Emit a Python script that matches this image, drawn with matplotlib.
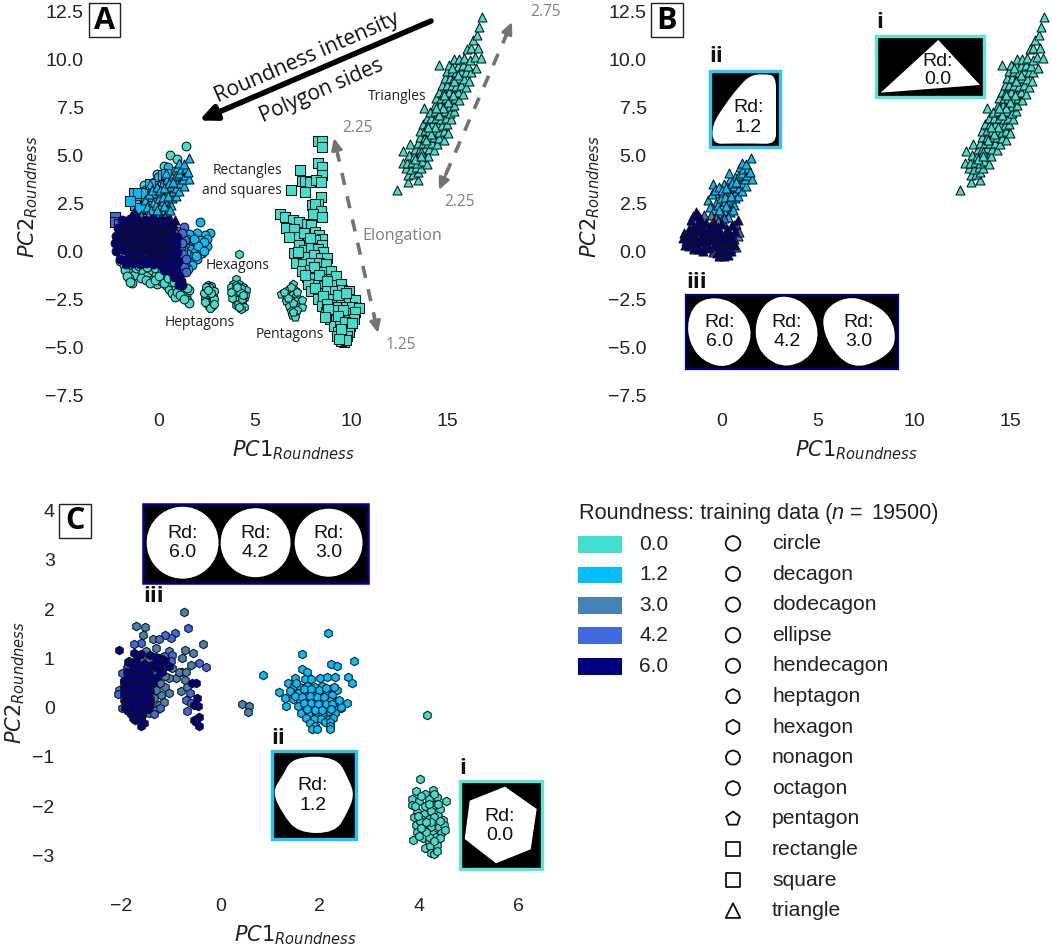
#!/usr/bin/env python3
"""Roundness PCA scatter panels (A, B, C) with shape insets and legend."""

import numpy as np
import matplotlib
matplotlib.use("Agg")
import matplotlib.pyplot as plt
from matplotlib.patches import PathPatch, Polygon, Rectangle
from matplotlib.path import Path

W, H = 1052, 946
plt.rcParams["font.family"] = ["Liberation Sans", "DejaVu Sans"]
plt.rcParams["mathtext.fontset"] = "dejavusans"

ROUND_LEVELS = ["0.0", "1.2", "3.0", "4.2", "6.0"]
ROUND_COLORS = ["#40E0D0", "#00BFFF", "#4682B4", "#4169E1", "#000080"]
SHAPE_NAMES = ["circle", "decagon", "dodecagon", "ellipse", "hendecagon", "heptagon", "hexagon",
               "nonagon", "octagon", "pentagon", "rectangle", "square", "triangle"]
SHAPE_MARKERS = ["o", (10, 0, 0), (12, 0, 0), "o", (11, 0, 0), (7, 0, 0), "h",
                 (9, 0, 0), (8, 0, 0), "p", "s", "s", "^"]

# --- triangles, shared by panels A and B ---
tri_00 = [(12.37, 3.2), (12.94, 3.6), (13.44, 3.7), (12.95, 3.95), (13.2, 4.0), (13.45, 4.1), (12.85, 4.3), (13.1, 4.25),
          (13.35, 4.35), (13.6, 4.3), (12.66, 4.58), (12.9, 4.6), (13.15, 4.65), (13.4, 4.6), (13.65, 4.7), (13.9, 4.55),
          (13.0, 5.0), (13.25, 4.95), (13.5, 5.0), (13.75, 5.05), (14.0, 4.95), (12.7, 5.2), (13.3, 5.3), (13.55, 5.3),
          (13.8, 5.35), (14.05, 5.3), (14.3, 5.25), (13.04, 5.57), (13.45, 5.65), (13.7, 5.6), (13.95, 5.65), (14.2, 5.6),
          (14.45, 5.55), (13.55, 5.95), (13.8, 5.95), (14.05, 5.95), (14.3, 5.95), (14.55, 5.9), (14.8, 5.8), (13.55, 6.25),
          (13.8, 6.3), (14.05, 6.25), (14.3, 6.3), (14.55, 6.2), (14.8, 6.25), (15.0, 6.15), (13.7, 6.6), (13.95, 6.6),
          (14.2, 6.6), (14.45, 6.6), (14.7, 6.55), (14.95, 6.6), (13.9, 6.95), (14.15, 6.95), (14.4, 6.95), (14.65, 6.9),
          (14.9, 6.95), (15.15, 6.85), (14.1, 7.25), (14.35, 7.3), (14.6, 7.25), (14.85, 7.3), (15.1, 7.2), (15.3, 7.3),
          (13.78, 7.46), (14.35, 7.6), (14.6, 7.6), (14.85, 7.6), (15.1, 7.55), (15.35, 7.6), (14.4, 7.95), (14.65, 7.95),
          (14.9, 7.95), (15.15, 7.9), (15.4, 7.95), (15.6, 7.85), (14.55, 8.3), (14.8, 8.3), (15.05, 8.3), (15.3, 8.25),
          (15.55, 8.3), (15.8, 8.2), (14.7, 8.65), (14.95, 8.65), (15.2, 8.65), (15.45, 8.6), (15.7, 8.65), (15.95, 8.55),
          (14.85, 9.0), (15.1, 9.0), (15.35, 9.0), (15.6, 9.0), (15.85, 8.95), (16.1, 8.85), (14.95, 9.35), (15.2, 9.35),
          (15.45, 9.3), (15.7, 9.35), (15.95, 9.3), (16.2, 9.3), (14.55, 9.7), (15.05, 9.7), (15.3, 9.7), (15.55, 9.65),
          (15.8, 9.7), (16.05, 9.65), (16.45, 9.55), (15.35, 10.0), (15.6, 10.0), (15.85, 10.05), (16.15, 9.95), (16.4, 10.1),
          (16.7, 10.05), (16.0, 10.5), (16.2, 10.55), (16.55, 10.55), (16.3, 11.0), (16.5, 11.25), (16.6, 11.65), (16.76, 12.2),
          (13.3, 4.8), (13.6, 5.15), (13.85, 5.8), (14.15, 6.1), (14.35, 6.45), (14.55, 7.1), (14.75, 7.45), (15.0, 7.75),
          (15.25, 8.1), (15.3, 8.85), (15.55, 9.15), (15.2, 9.55), (13.6, 4.95), (14.0, 6.45), (14.4, 7.45), (14.8, 8.1)]
tri_12 = [(-0.43, 3.5), (-0.2, 3.0), (-0.7, 2.65), (-0.3, 2.5), (-0.6, 2.3), (-0.4, 2.15), (-0.15, 2.4), (0.0, 2.75),
          (0.05, 2.3), (0.2, 2.6), (0.35, 2.3), (0.45, 2.65), (0.65, 2.4), (0.7, 2.75), (0.1, 3.05), (0.3, 3.0), (0.5, 3.05),
          (0.75, 3.1), (0.88, 2.85), (0.4, 3.35), (0.65, 3.4), (0.9, 3.3), (1.05, 3.1), (0.15, 3.5), (0.9, 3.65), (1.1, 3.55),
          (1.3, 3.4), (1.25, 3.75), (0.45, 3.75), (0.7, 3.85), (0.4, 4.05), (0.9, 3.95), (1.05, 4.05), (1.35, 3.95),
          (0.95, 4.4), (1.15, 4.25), (1.4, 4.3), (1.05, 4.6), (1.3, 4.55), (1.55, 4.82), (-0.1, 1.95), (0.2, 2.0), (0.45, 2.05),
          (0.1, 1.75), (-0.25, 1.8), (0.35, 1.75), (1.57, 3.75), (1.5, 4.1), (-0.5, 2.95), (-0.35, 3.2), (-0.1, 3.35),
          (0.05, 3.2), (0.25, 3.3), (0.55, 3.55), (0.2, 2.8), (0.5, 2.85), (0.25, 2.35), (-0.1, 2.15), (0.6, 2.15), (0.75, 3.6)]
tri_30 = [(-0.55, 1.9), (-0.3, 1.7), (-0.45, 1.5), (-0.15, 1.55), (0.1, 1.5), (0.75, 1.4), (0.85, 0.8)]
tri_42 = [(-1.5, 1.3), (-1.85, 0.5), (-0.9, 1.9), (-1.1, 1.7), (-1.4, 0.1), (-0.45, -0.05), (-0.4, 0.05), (0.15, 1.7),
          (0.9, 1.0), (0.65, 1.35), (0.5, 0.15), (-0.75, 0.3), (0.65, 0.6), (-1.9, 0.75), (-1.7, 0.25), (0.75, 0.2)]
tri_60 = [(-1.3, 2.02), (-1.1, 1.65), (-1.55, 1.6), (-1.2, 1.4), (-1.45, 1.2), (-1.7, 1.15), (-1.95, 0.95), (-1.75, 0.85),
          (-1.5, 0.9), (-1.25, 1.05), (-1.0, 1.25), (-0.8, 1.45), (-0.6, 1.3), (-0.4, 1.45), (-0.15, 1.25), (0.05, 1.4),
          (0.3, 1.15), (0.55, 1.35), (0.85, 1.6), (0.7, 1.05), (0.45, 0.9), (0.2, 0.85), (-0.05, 0.95), (-0.3, 0.95),
          (-0.55, 0.9), (-0.8, 0.85), (-1.05, 0.75), (-1.3, 0.7), (-1.55, 0.6), (-1.8, 0.55), (-1.6, 0.35), (-1.35, 0.4),
          (-1.1, 0.45), (-0.85, 0.5), (-0.6, 0.55), (-0.35, 0.6), (-0.1, 0.6), (0.15, 0.5), (0.4, 0.55), (0.65, 0.3), (0.35, 0.2),
          (0.1, 0.2), (-0.15, 0.25), (-0.4, 0.3), (-0.65, 0.15), (-0.9, 0.2), (-1.15, 0.1), (-0.2, -0.1), (0.05, -0.1), (0.3, -0.05),
          (0.5, 0.0), (-0.1, -0.25), (0.15, -0.25), (0.35, -0.2), (-1.2, 1.85), (-1.45, 1.8), (-0.95, 1.05), (-0.7, 1.1),
          (-0.45, 1.15), (-0.2, 0.75), (0.05, 0.7), (0.3, 0.7), (0.55, 0.7), (-2.0, 0.7), (-1.9, 0.3), (-1.4, 0.15), (-0.95, 0.0)]

# --- panel A only: other shapes ---
circ_a_00 = [(1.4, 5.45), (0.6, 5.0), (0.95, 4.8), (0.3, 4.45), (-0.1, 4.0), (-0.75, 3.45), (1.1, 4.0), (0.85, 4.15), (-2.0, -0.5),
             (-1.8, -0.75), (-1.65, -0.95), (-1.5, -0.85), (-1.45, -1.15), (-1.3, -1.25), (-1.55, -1.4), (-1.4, -1.65), (-1.2, -0.9),
             (-1.0, -0.8), (-0.8, -1.1), (-0.6, -1.3), (-0.9, -1.4), (-0.35, -1.0), (-0.35, -1.5), (-0.15, -1.25), (-0.1, -1.7),
             (0.1, -1.55), (0.3, -1.3), (0.4, -1.75), (0.55, -2.0), (0.65, -1.6), (0.7, -2.2), (0.85, -2.4), (0.9, -1.9), (1.05, -1.5),
             (1.15, -1.95), (1.25, -2.15), (1.4, -2.3), (1.45, -2.55), (1.55, -2.7), (1.55, -2.05), (-0.6, -0.85), (-0.2, -0.9),
             (0.15, -1.0), (0.6, -1.15), (-0.65, -1.5), (-0.45, -1.65), (-0.2, -1.5), (0.0, -1.3), (0.25, -1.65), (0.5, -1.4),
             (0.8, -1.6), (0.95, -2.15), (1.1, -2.3), (1.3, -2.5), (-1.75, -1.0), (-1.65, -1.3), (-1.5, -1.6), (1.45, -1.95)]
circ_a_12 = [(2.15, 1.5), (2.65, 0.95), (2.4, 0.85), (2.0, 0.95), (1.75, 0.75), (2.15, 0.55), (2.5, 0.65), (1.85, 0.3), (2.2, 0.2), (2.5, 0.25),
             (1.6, 0.1), (1.9, -0.05), (2.25, -0.1), (2.0, -0.4), (1.7, -0.25), (1.55, -0.55), (1.35, 0.35), (1.65, 0.55), (1.4, -0.1),
             (1.55, 0.9), (1.2, 0.75), (-0.05, 3.15), (-0.85, 2.3), (-0.45, 3.1), (1.75, -0.75), (1.5, -0.95), (1.35, -0.75), (1.25, -0.3),
             (2.35, 0.45), (2.05, 0.25), (1.45, 0.6), (1.85, 0.6), (1.25, 0.1), (2.35, 0.0), (1.95, -0.25), (-1.35, 2.7), (-1.05, 2.5),
             (-0.7, 3.2), (-0.25, 3.6), (-0.05, 3.85), (0.2, 3.75), (0.5, 4.35), (0.25, 3.4)]
circ_a_dark = [(-1.9, 1.6), (-1.5, 1.65), (-1.1, 1.55), (-0.7, 1.6), (-0.3, 1.65), (0.1, 1.55), (0.5, 1.6), (-2.1, 1.2), (-1.7, 1.25), (-1.3, 1.15),
               (-0.9, 1.2), (-0.5, 1.25), (-0.1, 1.15), (0.3, 1.2), (0.7, 1.25), (-2.2, 0.8), (-1.8, 0.85), (-1.4, 0.75), (-1.0, 0.8), (-0.6, 0.85),
               (-0.2, 0.75), (0.2, 0.8), (0.6, 0.85), (0.95, 0.75), (-2.25, 0.4), (-1.9, 0.45), (-1.5, 0.35), (-1.1, 0.4), (-0.7, 0.45), (-0.3, 0.35),
               (0.1, 0.4), (0.5, 0.45), (0.9, 0.35), (-2.2, 0.0), (-1.8, 0.05), (-1.4, -0.05), (-1.0, 0.0), (-0.6, 0.05), (-0.2, -0.05), (0.2, 0.0),
               (0.6, 0.05), (0.95, -0.05), (-2.0, -0.4), (-1.6, -0.35), (-1.2, -0.45), (-0.8, -0.4), (-0.4, -0.35), (0.0, -0.45), (0.4, -0.4),
               (0.8, -0.35), (1.0, -0.5), (-1.7, -0.7), (-1.35, -0.65), (-0.3, -0.7), (0.1, -0.75), (0.5, -0.7), (0.9, -0.75), (0.25, -1.0), (0.6, -1.05),
               (0.9, -1.05), (0.8, -1.35), (1.05, -1.3), (1.1, -1.65), (1.22, -1.75), (-0.95, -0.7), (-0.65, -0.6), (1.15, -1.55), (1.05, -1.75)]
circ_a_mid = [(1.3, 1.25), (0.95, 0.45), (1.15, 0.15), (1.05, -0.35), (1.25, -0.55), (1.0, -0.95), (1.3, -0.85), (1.1, 0.7), (1.25, -0.15),
              (1.35, 0.55), (1.2, 0.4), (1.4, -0.4), (1.15, -1.15), (1.4, -1.1), (0.95, 1.05), (1.2, 0.95)]
sq_a_blue = [(-0.95, 2.6), (-0.65, 2.65), (-1.3, 3.0), (-1.05, 3.0), (-0.65, 3.0), (-0.3, 2.75), (0.2, 3.95), (0.4, 4.0), (-0.35, 3.05),
             (-0.8, 2.2), (-0.5, 2.35), (-1.25, 2.4), (-1.5, 2.6), (-0.45, 3.5), (-0.1, 3.0), (-0.95, 2.25)]
sq_a_dark = [(-2.25, 1.75), (-2.25, 1.5), (-1.9, 1.3), (-1.6, 1.5), (-1.35, 1.1), (-1.75, 0.95), (-1.2, 1.35), (-2.05, 1.4)]
hept_a = [(2.55, -1.75), (2.7, -1.8), (2.45, -2.0), (2.75, -2.05), (2.6, -1.9), (2.5, -2.25), (2.8, -2.3), (2.65, -2.35), (2.6, -2.5), (2.4, -2.45),
          (2.75, -2.6), (2.5, -2.65), (2.55, -2.8), (2.75, -2.85), (2.6, -2.15), (2.65, -2.95), (2.85, -2.5), (2.35, -2.2), (2.85, -2.1), (2.45, -1.85),
          (2.85, -2.75), (2.7, -2.2), (2.4, -2.65), (2.55, -2.05)]
hex_a = [(4.15, -0.15), (4.0, -1.45), (3.85, -1.7), (4.15, -1.7), (4.4, -1.85), (3.85, -2.0), (4.1, -2.05), (4.4, -2.15), (3.9, -2.3), (4.2, -2.35),
         (4.45, -2.45), (4.05, -2.55), (4.3, -2.7), (4.45, -2.9), (4.25, -3.0), (4.0, -2.8), (3.75, -1.85), (4.0, -1.75), (4.55, -2.05), (4.25, -1.95),
         (3.95, -2.15), (4.1, -2.75), (4.2, -2.15), (4.3, -2.5), (3.8, -2.45), (4.5, -2.3), (4.15, -2.9), (3.75, -2.15), (4.35, -2.3), (4.05, -1.9)]
pent_a = [(6.95, -1.7), (6.75, -2.0), (7.05, -2.05), (6.35, -2.25), (6.6, -2.3), (6.9, -2.3), (7.15, -2.35), (6.6, -2.6), (6.85, -2.55), (7.15, -2.6),
          (7.35, -2.7), (6.75, -2.85), (7.0, -2.85), (7.3, -2.9), (6.85, -3.1), (7.1, -3.15), (6.9, -3.35), (7.05, -3.45), (6.85, -1.9), (7.2, -2.15),
          (6.5, -2.15), (7.45, -2.9), (7.45, -2.55), (6.95, -2.7), (7.2, -3.05), (6.7, -2.45), (6.95, -3.2)]
sq_a = [(8.25, 5.75), (8.45, 5.75), (8.45, 5.4), (8.25, 4.6), (7.35, 4.2), (8.5, 4.35), (8.5, 3.95), (7.45, 3.65), (7.6, 3.65), (7.85, 3.6), (8.15, 3.7),
        (8.4, 3.6), (6.85, 3.2), (7.6, 3.05), (8.4, 2.8), (8.25, 2.45), (7.95, 2.4), (8.1, 2.45), (8.4, 2.1), (6.3, 1.95), (6.55, 1.75), (8.0, 1.95), (8.5, 1.75),
        (6.95, 1.6), (7.3, 1.5), (7.7, 1.4), (7.9, 1.35), (6.6, 1.2), (7.0, 1.15), (7.2, 0.75), (6.75, 0.75), (7.55, 0.95), (8.1, 1.0), (8.3, 0.85), (8.45, 0.65),
        (7.75, 0.4), (8.1, 0.55), (8.45, 0.3), (7.3, 0.3), (7.55, 0.05), (7.9, 0.15), (8.25, 0.1), (8.55, -0.05), (7.0, -0.1), (7.35, -0.35), (7.65, -0.3), (8.05, -0.2),
        (8.4, -0.35), (8.75, -0.35), (7.15, -0.65), (7.5, -0.7), (7.9, -0.6), (8.3, -0.65), (8.7, -0.7), (7.45, -1.05), (7.85, -1.0), (8.15, -1.05), (8.55, -1.1),
        (8.95, -1.05), (7.7, -1.35), (8.05, -1.4), (8.5, -1.45), (8.95, -1.45), (9.2, -1.3), (7.75, -1.7), (8.25, -1.75), (8.6, -1.8), (9.0, -1.75), (9.45, -1.7),
        (7.9, -2.1), (8.35, -2.2), (8.75, -2.1), (9.15, -2.1), (9.5, -2.05), (9.9, -2.1), (8.25, -2.5), (8.65, -2.55), (9.05, -2.5), (9.45, -2.45), (9.85, -2.5),
        (10.2, -2.55), (8.5, -2.85), (8.9, -2.9), (9.3, -2.9), (9.7, -2.9), (10.05, -2.9), (10.4, -2.95), (8.7, -3.2), (9.1, -3.25), (9.5, -3.25), (9.9, -3.25),
        (10.2, -3.2), (8.9, -3.55), (9.2, -3.6), (9.5, -3.55), (9.85, -3.6), (10.15, -3.55), (9.1, -3.9), (9.4, -3.85), (9.7, -3.95), (9.95, -3.9), (9.3, -4.2),
        (9.6, -4.25), (9.9, -4.2), (9.25, -4.45), (9.55, -4.55), (9.75, -4.45), (9.6, -4.75), (9.45, -4.7), (9.7, -4.65), (7.25, -0.05), (7.85, 0.7), (8.05, -0.85),
        (7.6, -1.25), (8.3, -1.25), (8.75, -1.55), (8.1, -1.95), (8.55, -2.35), (9.3, -2.3), (9.7, -2.2), (8.75, -2.75), (9.15, -3.05), (9.55, -3.05), (9.3, -3.4),
        (9.65, -3.7), (9.45, -4.05), (10.05, -3.75), (9.35, -4.6), (8.8, -3.0), (8.65, -3.45)]

# --- panel C: hexagons ---
hex_00 = [(4.17, -0.15), (4.03, -1.45), (3.95, -1.7), (4.12, -1.75), (4.28, -1.68), (4.2, -1.85), (3.86, -1.85), (4.0, -1.9), (4.36, -1.82), (4.54, -1.9),
          (3.86, -1.98), (4.13, -2.0), (4.3, -1.97), (4.43, -2.05), (3.97, -2.12), (4.1, -2.15), (4.25, -2.1), (4.38, -2.2), (3.9, -2.22), (4.05, -2.25),
          (4.2, -2.27), (4.34, -2.32), (4.48, -2.28), (3.95, -2.38), (4.1, -2.4), (4.25, -2.42), (4.4, -2.42), (4.5, -2.38), (3.97, -2.52), (4.13, -2.5),
          (4.28, -2.56), (4.44, -2.55), (4.52, -2.48), (3.88, -2.68), (4.08, -2.65), (4.2, -2.7), (4.35, -2.62), (4.12, -2.85), (4.22, -2.8), (4.37, -2.78),
          (4.25, -2.95), (4.3, -2.98), (4.2, -2.62), (4.37, -2.9), (4.02, -2.3), (4.3, -2.22), (4.15, -2.52), (4.42, -2.65), (4.05, -1.8), (3.92, -2.0),
          (4.2, -1.95), (4.3, -1.75), (4.0, -2.6), (4.25, -2.33), (4.42, -2.3), (3.98, -2.2), (4.15, -2.33), (4.38, -1.95), (4.05, -2.45), (4.3, -2.7)]
hex_12 = [(0.85, 0.66), (2.17, 1.52), (1.65, 1.09), (2.69, 0.95), (2.22, 0.88), (2.35, 0.85), (2.56, 0.63), (2.65, 0.51), (2.54, 0.09), (1.17, 0.32), (1.32, 0.03),
          (1.3, 0.19), (1.65, 0.78), (1.75, 0.72), (2.0, 0.6), (2.15, 0.63), (2.3, 0.62), (1.5, 0.6), (1.7, 0.58), (1.82, 0.58), (1.35, 0.5), (1.47, 0.45), (1.6, 0.42),
          (1.75, 0.45), (1.9, 0.42), (2.05, 0.45), (2.2, 0.38), (2.35, 0.35), (1.4, 0.33), (1.55, 0.3), (1.7, 0.28), (1.85, 0.3), (2.0, 0.28), (2.13, 0.3), (2.25, 0.25),
          (1.45, 0.18), (1.6, 0.15), (1.75, 0.17), (1.9, 0.15), (2.05, 0.15), (2.2, 0.13), (2.32, 0.12), (1.55, 0.03), (1.7, 0.03), (1.85, 0.02), (2.0, 0.02), (2.15, 0.0),
          (2.3, 0.03), (2.42, 0.0), (1.62, -0.1), (1.78, -0.1), (1.92, -0.12), (2.05, -0.1), (2.2, -0.1), (2.3, -0.1), (1.72, -0.2), (1.88, -0.22), (2.02, -0.22),
          (2.18, -0.22), (2.27, -0.2), (1.8, -0.32), (1.9, -0.38), (2.1, -0.3), (2.2, -0.3), (2.2, -0.38), (1.85, -0.44), (1.95, -0.44), (2.2, -0.44), (2.42, 0.02),
          (1.52, 0.5), (1.68, 0.38), (1.83, 0.37), (1.98, 0.36), (2.12, 0.4), (2.28, 0.42), (1.5, 0.24), (1.64, 0.22), (1.8, 0.23), (1.95, 0.22), (2.08, 0.22), (1.68, 0.1),
          (1.82, 0.09), (1.97, 0.08), (2.12, 0.07), (2.25, 0.08), (1.75, -0.03), (1.9, -0.05), (2.05, -0.04), (2.22, -0.03), (2.38, 0.16)]
hex_30 = [(-0.75, 1.95), (-1.7, 1.65), (-1.52, 1.63), (-1.57, 1.48), (-1.37, 1.39), (-0.35, 1.29), (-0.56, 1.12), (-0.72, 1.18), (-0.79, 1.0), (-0.6, 0.87),
          (-0.79, 0.73), (-0.9, 0.6), (-0.72, 0.56), (-0.8, 0.33), (-0.68, 0.43), (0.42, 0.07), (0.57, 0.03), (0.55, -0.09), (-0.85, 0.72), (-0.7, 0.72), (-1.05, 1.15),
          (-1.3, 1.22), (-1.5, 1.15), (-1.65, 1.05), (-1.85, 0.95), (-1.95, 0.55), (-2.05, 0.35), (-1.95, 0.15), (-1.25, 1.0), (-1.1, 0.85), (-1.05, 0.6), (-1.18, 0.75),
          (-1.3, 0.55), (-1.12, 0.42), (-1.2, 0.25), (-1.25, 0.05), (-1.3, 0.35), (-1.15, 0.12), (-1.4, 0.85), (-1.45, 1.0), (-1.05, 0.3), (-1.22, 0.5), (-1.12, 0.65),
          (-1.35, 0.2), (-1.42, 0.5), (-1.55, 0.8), (-1.7, 0.95), (-1.9, 0.8), (-1.3, -0.05), (-1.45, -0.1), (-0.98, 0.8), (-1.02, 0.98)]
hex_42 = [(-0.65, 1.61), (-0.93, 1.52), (-1.0, 1.42), (-1.13, 1.47), (-1.25, 1.4), (-0.43, 0.91), (-0.29, 0.82), (-1.6, 1.32), (-1.75, 1.3), (-1.87, 0.85),
          (-2.0, 0.7), (-1.15, 1.05), (-0.98, 1.08), (-1.35, 0.72), (-1.35, -0.13), (-1.22, -0.0), (-0.7, 0.16), (-0.68, -0.06), (-0.6, 0.1), (-0.62, 0.3), (-1.0, 0.95),
          (-2.0, 0.0), (-1.6, 0.95), (-2.08, 0.28), (-1.95, 0.45)]
hex_60 = [(-2.05, 1.17), (-1.75, 1.12), (-1.6, 1.1), (-1.42, 1.08), (-1.3, 1.03), (-1.18, 0.98), (-1.88, 0.92), (-1.7, 0.95), (-1.55, 0.88), (-1.4, 0.85), (-1.25, 0.78),
          (-1.9, 0.72), (-1.75, 0.75), (-1.6, 0.72), (-1.45, 0.68), (-1.95, 0.55), (-1.8, 0.58), (-1.65, 0.55), (-1.5, 0.5), (-1.37, 0.5), (-1.95, 0.4), (-1.82, 0.4),
          (-1.68, 0.4), (-1.55, 0.35), (-1.42, 0.33), (-1.95, 0.27), (-1.82, 0.25), (-1.7, 0.27), (-1.55, 0.22), (-1.42, 0.18), (-1.93, 0.13), (-1.8, 0.12), (-1.68, 0.12),
          (-1.55, 0.08), (-1.42, 0.05), (-1.93, 0.0), (-1.8, -0.02), (-1.68, -0.03), (-1.55, -0.05), (-1.82, -0.12), (-1.7, -0.15), (-1.58, -0.15), (-1.72, -0.25), (-1.6, -0.25),
          (-1.55, -0.32), (-1.6, -0.38), (-0.58, 0.51), (-0.5, 0.5), (-0.48, 0.19), (-0.54, 0.05), (-0.43, -0.18), (-0.54, -0.25), (-0.43, -0.37), (-0.5, -0.3), (-0.45, 0.03),
          (-1.35, 0.82), (-1.28, 0.62), (-1.22, 0.85), (-1.85, 0.65), (-1.7, 0.65), (-1.55, 0.62), (-1.4, 0.6), (-1.88, 0.48), (-1.74, 0.48), (-1.6, 0.45), (-1.47, 0.42),
          (-1.88, 0.33), (-1.75, 0.33), (-1.62, 0.3), (-1.48, 0.27), (-1.88, 0.18), (-1.75, 0.18), (-1.62, 0.17), (-1.48, 0.13), (-1.87, 0.06), (-1.75, 0.05), (-1.6, 0.02),
          (-1.47, -0.02), (-1.87, -0.07), (-1.76, -0.08), (-1.63, -0.09), (-1.78, -0.2), (-1.65, -0.2), (-1.65, 0.82), (-1.5, 0.76), (-1.78, 0.85), (-1.12, 0.95), (-1.05, 0.85),
          (-1.3, 0.9), (-1.18, 0.72)]

PANEL_A = [(circ_a_00, "o", 0), (pent_a, "p", 0), (hept_a, (7, 0, 0), 0), (hex_a, "h", 0), (sq_a, "s", 0),
           (tri_00, "^", 0), (circ_a_12, "o", 1), (sq_a_blue, "s", 1), (tri_12, "^", 1), (tri_30, "^", 2),
           (circ_a_mid, "o", 3), (sq_a_dark, "s", 3), (tri_42, "^", 3), (circ_a_dark, "o", 4), (tri_60, "^", 4)]
PANEL_B = [(tri_00, "^", 0), (tri_12, "^", 1), (tri_30, "^", 2), (tri_42, "^", 3), (tri_60, "^", 4)]
PANEL_C = [(hex_00, "h", 0), (hex_12, "h", 1), (hex_30, "h", 2), (hex_42, "h", 3), (hex_60, "h", 4)]

AB_TICKS_X = [0, 5, 10, 15]
AB_TICKS_Y = [-7.5, -5, -2.5, 0, 2.5, 5, 7.5, 10, 12.5]
C_TICKS_X = [-2, 0, 2, 4, 6]
C_TICKS_Y = [-3, -2, -1, 0, 1, 2, 3, 4]

MARKER_SIZE = {"^": 42, "s": 42, "o": 40, "h": 38, "p": 40}


def make_axes(fig, box, x0, xs, y0, ys):
    # box is left, right, top, bottom in pixels; x0/y0 are the pixels of data zero
    l, r, t, b = box
    ax = fig.add_axes([l / W, 1 - b / H, (r - l) / W, (b - t) / H])
    ax.set_xlim((l - x0) / xs, (r - x0) / xs)
    ax.set_ylim((y0 - b) / ys, (y0 - t) / ys)
    ax.patch.set_visible(False)
    for s in ax.spines.values():
        s.set_visible(False)
    return ax


def draw_points(ax, groups):
    for pts, marker, level in groups:
        pts = np.array(pts)
        ax.scatter(pts[:, 0], pts[:, 1], s=MARKER_SIZE.get(marker, 38), marker=marker,
                   color=ROUND_COLORS[level], edgecolor="#111111", linewidth=0.75)


def style_ticks(ax, xt, yt):
    ax.set_xticks(xt)
    ax.set_yticks(yt)
    ax.tick_params(length=0, labelsize=14, colors="#222222", pad=6)


def smooth_blob(ov, pts):
    # closed quadratic spline through the midpoints of the outline points
    pts = np.array(pts, dtype=float)
    mids = (pts + np.roll(pts, -1, axis=0)) / 2
    verts, codes = [mids[-1]], [Path.MOVETO]
    for p, m in zip(pts, mids):
        verts += [p, m]
        codes += [Path.CURVE3, Path.CURVE3]
    ov.add_patch(PathPatch(Path(verts, codes), facecolor="white", edgecolor="none"))


def frame(ov, x0, x1, y0, y1, color, lw=2.4):
    ov.add_patch(Rectangle((x0, y0), x1 - x0, y1 - y0, facecolor="black", edgecolor=color, linewidth=lw))


def rd_text(ov, x, y1, y2, value):
    ov.text(x, y1, "Rd:", ha="center", va="center", fontsize=14, color="#111111")
    ov.text(x, y2, value, ha="center", va="center", fontsize=14, color="#111111")


BLOB_UNIT = [(1.05, 0.0), (0.85, 0.62), (0.32, 1.0), (-0.32, 1.0), (-0.85, 0.62),
             (-1.05, 0.0), (-0.85, -0.62), (-0.32, -1.0), (0.32, -1.0), (0.85, -0.62)]


def round_blob(ov, cx, cy, rx, ry):
    smooth_blob(ov, [(cx + rx * u, cy + ry * v) for u, v in BLOB_UNIT])


fig = plt.figure(figsize=(W / 100, H / 100), dpi=100, facecolor="white")
ov = fig.add_axes([0, 0, 1, 1], zorder=10)
ov.set_xlim(0, W)
ov.set_ylim(H, 0)
ov.axis("off")

LABEL_X = r"$PC1_{Roundness}$"
LABEL_Y = r"$PC2_{Roundness}$"

# --- Panel A ---
ax_a = make_axes(fig, (92, 525, 2, 405), 158.7, 19.27, 251, 19.2)
draw_points(ax_a, PANEL_A)
style_ticks(ax_a, AB_TICKS_X, AB_TICKS_Y)

# --- Panel B ---
ax_b = make_axes(fig, (655, 1050, 2, 405), 721.3, 19.27, 251, 19.2)
draw_points(ax_b, PANEL_B)
style_ticks(ax_b, AB_TICKS_X, AB_TICKS_Y)

# --- Panel C ---
ax_c = make_axes(fig, (63, 545, 495, 890), 220.7, 49.55, 707.7, 49.25)
draw_points(ax_c, PANEL_C)
style_ticks(ax_c, C_TICKS_X, C_TICKS_Y)

for ax, xl, yl in [(ax_a, (293, 450), (28, 197)), (ax_b, (856, 450), (590, 197)), (ax_c, (295, 935), (15, 683))]:
    ax.set_xlabel(LABEL_X, fontsize=15, color="#222222", va="center")
    ax.set_ylabel(LABEL_Y, fontsize=15, color="#222222", va="center", ha="center")
    ax.xaxis.set_label_coords(*xl, transform=ov.transData)
    ax.yaxis.set_label_coords(*yl, transform=ov.transData)

# --- Panel letters ---
for letter, x0, x1, y0, y1 in [("A", 88.5, 120, 3.5, 37.5), ("B", 651, 682.5, 3.5, 37.5), ("C", 59, 91, 503.5, 537.5)]:
    ov.add_patch(Rectangle((x0, y0), x1 - x0, y1 - y0, facecolor="white", edgecolor="#222222", linewidth=1))
    ov.text((x0 + x1) / 2, (y0 + y1) / 2 + 0.5, letter, ha="center", va="center", fontsize=22,
            fontweight="bold", family="Open Sans", color="black")

# --- Panel A annotations ---
ov.annotate("", xy=(199, 120.5), xytext=(431, 21),
            arrowprops=dict(arrowstyle="-|>,head_length=1.0,head_width=0.45", color="black", lw=4,
                            shrinkA=0, shrinkB=0, capstyle="round"))
for txt, x, y, fs in [("Roundness intensity", 307, 58, 15.2), ("Polygon sides", 322, 91, 15)]:
    ov.text(x, y, txt, rotation=23.5, rotation_mode="anchor", ha="center", va="center", fontsize=fs,
            family="Open Sans", color="#111111")
for x_a, y_a, x_b, y_b in [(512, 22, 439, 190), (334, 138, 378, 333)]:
    ov.plot([x_a + (x_b - x_a) * 0.06, x_b - (x_b - x_a) * 0.06],
            [y_a + (y_b - y_a) * 0.06, y_b - (y_b - y_a) * 0.06],
            color="#737373", lw=2.6, dashes=(3.4, 3.2))
    ov.annotate("", xy=(x_a, y_a), xytext=(x_a + (x_b - x_a) * 0.1, y_a + (y_b - y_a) * 0.1),
                arrowprops=dict(arrowstyle="-|>,head_length=0.7,head_width=0.32", color="#737373", lw=2,
                                shrinkA=0, shrinkB=0))
    ov.annotate("", xy=(x_b, y_b), xytext=(x_b - (x_b - x_a) * 0.1, y_b - (y_b - y_a) * 0.1),
                arrowprops=dict(arrowstyle="-|>,head_length=0.7,head_width=0.32", color="#737373", lw=2,
                                shrinkA=0, shrinkB=0))
for txt, x, y in [("2.75", 546, 12), ("2.25", 358, 128), ("2.25", 460, 202), ("1.25", 401, 345)]:
    ov.text(x, y, txt, ha="center", va="center", fontsize=11.2, family="Open Sans", color="#808080")
ov.text(402, 236, "Elongation", ha="center", va="center", fontsize=11.6, family="Open Sans", color="#808080")
for txt, x, y in [("Triangles", 397, 96), ("Hexagons", 238, 265), ("Heptagons", 200, 322), ("Pentagons", 290, 334)]:
    ov.text(x, y, txt, ha="center", va="center", fontsize=10, family="Open Sans", color="#222222")
ov.text(282, 171, "Rectangles", ha="right", va="center", fontsize=10, family="Open Sans", color="#222222")
ov.text(282, 191, "and squares", ha="right", va="center", fontsize=10, family="Open Sans", color="#222222")

# --- Inset tags ---
for txt, x, y in [("i", 880, 23), ("ii", 716, 57), ("iii", 697, 282), ("i", 462.6, 768), ("ii", 278.6, 738), ("iii", 153.7, 596)]:
    ov.text(x, y, txt, ha="center", va="center", fontsize=16, fontweight="bold", family="Open Sans", color="#111111")

# --- Panel B insets ---
frame(ov, 876, 984, 36, 97, "#5FE3D3")
ov.add_patch(Polygon([(938.3, 40), (980, 85), (880.7, 92.7)], facecolor="white", edgecolor="none"))
rd_text(ov, 938, 61, 80, "0.0")

frame(ov, 709.5, 780, 71.5, 147.5, "#33C6F2")
smooth_blob(ov, [(765, 74), (776, 76), (776, 100), (776, 125), (776, 144), (755, 143.5), (730, 143.5), (713, 144),
                 (712, 125), (724, 106), (740, 85), (751, 75)])
rd_text(ov, 748.5, 108, 127, "1.2")

frame(ov, 686, 898, 295, 369, "#00008B", lw=1.6)
smooth_blob(ov, [(716.7, 296.7), (738.3, 305), (752.7, 328.3), (746.7, 353.3), (726.7, 368.3), (703.3, 361.7),
                 (689.3, 343.3), (687.3, 320), (696.7, 301.7)])
smooth_blob(ov, [(786.7, 295), (808.3, 305), (820, 331.7), (811.7, 356.7), (786.7, 368.3), (765, 358.3),
                 (755, 340), (756.7, 316.7), (768.3, 300)])
smooth_blob(ov, [(846.7, 296), (870, 301.7), (891.7, 316.7), (896.7, 343.3), (883.3, 358.3), (858.3, 368.3),
                 (838.3, 358.3), (823.3, 333.3), (823.3, 310)])
for x, val in [(720, "6.0"), (787, "4.2"), (858.5, "3.0")]:
    rd_text(ov, x, 322.7, 341.7, val)

# --- Panel C insets ---
frame(ov, 142.5, 367.5, 503.5, 582.5, "#00008B", lw=1.8)
round_blob(ov, 182.6, 542.7, 36, 36)
round_blob(ov, 255.6, 542.7, 35, 34.5)
round_blob(ov, 328.6, 542.7, 34, 34)
for x, val in [(182.6, "6.0"), (255.6, "4.2"), (328.6, "3.0")]:
    rd_text(ov, x, 533, 552, val)

frame(ov, 272, 355.5, 750.5, 838.5, "#1FC3F5")
smooth_blob(ov, [(292.7, 756.7), (336.7, 756.7), (349, 780), (354.4, 795), (347.3, 813), (335, 833),
                 (298, 833), (282, 813), (272.2, 791.7), (282, 776.7)])
rd_text(ov, 313, 785, 805, "1.2")

frame(ov, 459.5, 542, 781, 868.5, "#5FE3D3")
ov.add_patch(Polygon([(505, 786.7), (536.7, 809), (530.7, 849.3), (496, 863.3), (464.7, 839), (469.7, 800.7)],
                     facecolor="white", edgecolor="none"))
rd_text(ov, 500, 816, 835, "0.0")

# --- Legend ---
ov.text(579, 513, "Roundness: training data (", ha="left", va="center", fontsize=15.6, color="#222222")
ov.text(832, 513, "n", ha="left", va="center", fontsize=15.6, style="italic", color="#222222")
ov.text(850, 513, "=", ha="left", va="center", fontsize=15.6, color="#222222")
ov.text(871.5, 513, "19500)", ha="left", va="center", fontsize=15.6, color="#222222")

for i, (lab, col) in enumerate(zip(ROUND_LEVELS, ROUND_COLORS)):
    yc = 544.4 + 30.45 * i
    ov.add_patch(Rectangle((578, yc - 8.3), 44, 16.6, facecolor=col, edgecolor="none"))
    ov.text(639, yc, lab, ha="left", va="center", fontsize=15, color="#222222")
for i, (name, mk) in enumerate(zip(SHAPE_NAMES, SHAPE_MARKERS)):
    yc = 543.4 + 30.6 * i
    ov.scatter([733], [yc], marker=mk, s=110 if mk != "s" else 100, facecolor="none", edgecolor="#111111", linewidth=1.3)
    ov.text(772, yc, name, ha="left", va="center", fontsize=15.2, color="#222222")

fig.savefig("out.png", dpi=100, facecolor="white")
